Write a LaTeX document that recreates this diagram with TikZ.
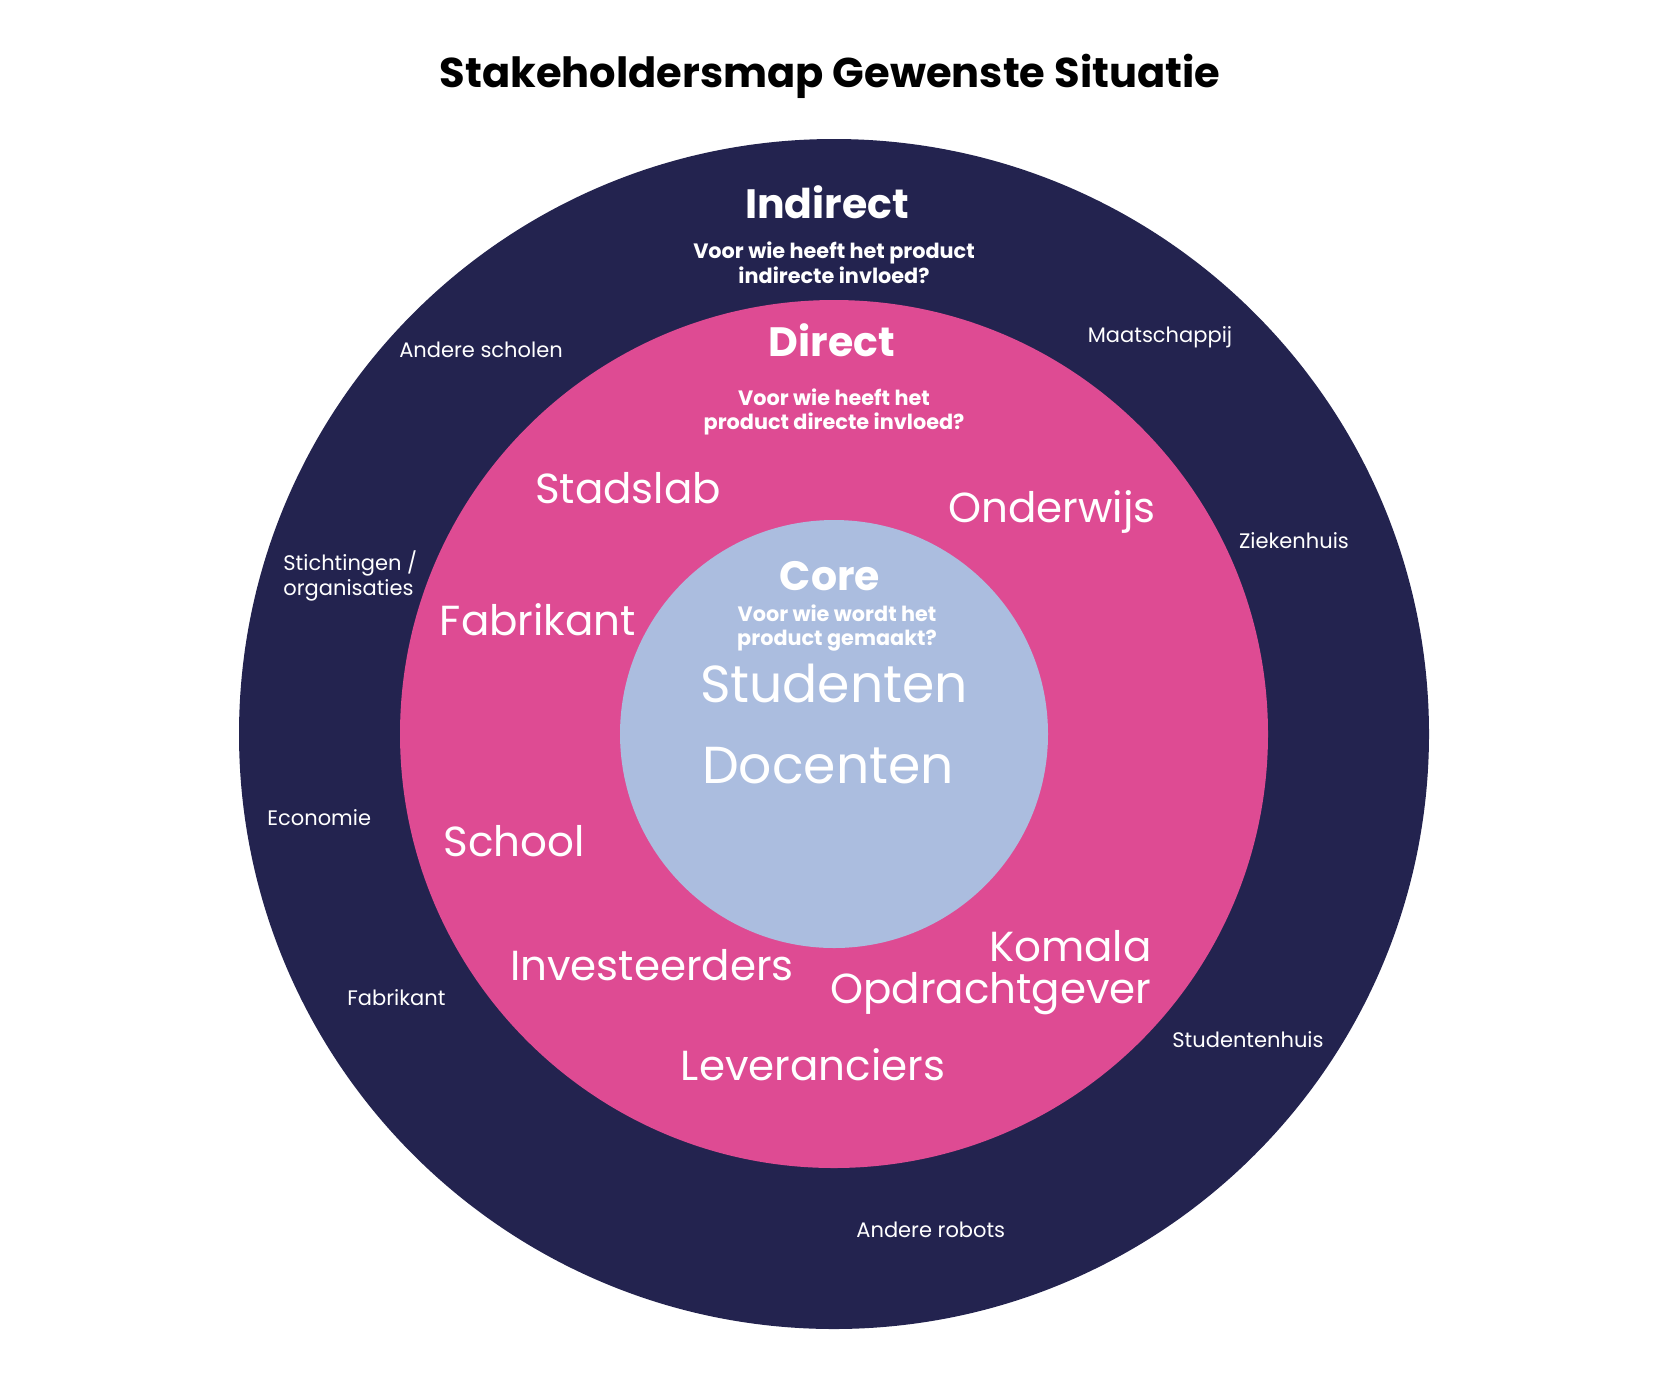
\documentclass[tikz,border=0pt]{standalone}
\usepackage{fontspec}
\setmainfont{Poppins}
\definecolor{navy}{HTML}{23234F}
\definecolor{pinkc}{HTML}{DE4B93}
\definecolor{corec}{HTML}{ABBDDF}
\tikzset{
  ring/.style={circle, inner sep=0pt},
  head/.style={text=white, inner sep=0pt, font=\bfseries\fontsize{20.5}{24}\selectfont},
  sub/.style={text=white, inner sep=0pt, align=center, font=\bfseries\fontsize{10.4}{12.3}\selectfont},
  biglbl/.style={text=white, inner sep=0pt, font=\fontsize{21}{21}\selectfont},
  corelbl/.style={text=white, inner sep=0pt, font=\fontsize{26}{26}\selectfont},
  outer/.style={text=white, inner sep=0pt, font=\fontsize{10.5}{12.5}\selectfont},
}
\begin{document}
\begin{tikzpicture}[x=0.5pt,y=-0.5pt]
\useasboundingbox (0,0) rectangle (1668,1387);
\fill[white] (0,0) rectangle (1668,1387);
\node[inner sep=0pt, font=\bfseries\fontsize{20.8}{24}\selectfont] (title) at (830,76) {Stakeholdersmap Gewenste Situatie};
% circles
\fill[navy] (834,734) circle[radius=595];
\fill[pinkc] (834,734) circle[radius=434];
\fill[corec] (834,734) circle[radius=214];
% indirect
\node[head] (indirect) at (827,202) {Indirect};
\node[sub] (indsub) at (834,263) {Voor wie heeft het product\\indirecte invloed?};
\node[outer] (andsch) at (481,350) {Andere scholen};
\node[outer] (maat) at (1160,337) {Maatschappij};
\node[outer] (zieken) at (1294,541) {Ziekenhuis};
\node[outer, anchor=west, align=left] (sticht) at (283,575.5) {Stichtingen /\\organisaties};
\node[outer, anchor=west] (econ) at (267,818) {Economie};
\node[outer, anchor=west] (fabout) at (347,998) {Fabrikant};
\node[outer, anchor=west] (studhuis) at (1172,1040) {Studentenhuis};
\node[outer, anchor=west] (robots) at (856,1230) {Andere robots};
% direct
\node[head] (direct) at (832,340) {Direct};
\node[sub] (dirsub) at (834,412) {Voor wie heeft het\\product directe invloed?};
\node[biglbl] (stadslab) at (628,488) {Stadslab};
\node[biglbl] (onderwijs) at (1052,512) {Onderwijs};
\node[biglbl] (fabin) at (538,620) {Fabrikant};
\node[biglbl] (school) at (514,841) {School};
\node[biglbl] (invest) at (652,965) {Investeerders};
\node[biglbl, anchor=east, align=right, font=\fontsize{21}{21}\selectfont] (komala) at (1152,973) {Komala\\Opdrachtgever};
\node[biglbl] (lever) at (813,1065) {Leveranciers};
% core
\node[head] (core) at (830,576) {Core};
\node[sub] (coresub) at (837,628) {Voor wie wordt het\\product gemaakt?};
\node[corelbl] (studenten) at (834,683) {Studenten};
\node[corelbl] (docenten) at (828,766) {Docenten};
\end{tikzpicture}
\end{document}
